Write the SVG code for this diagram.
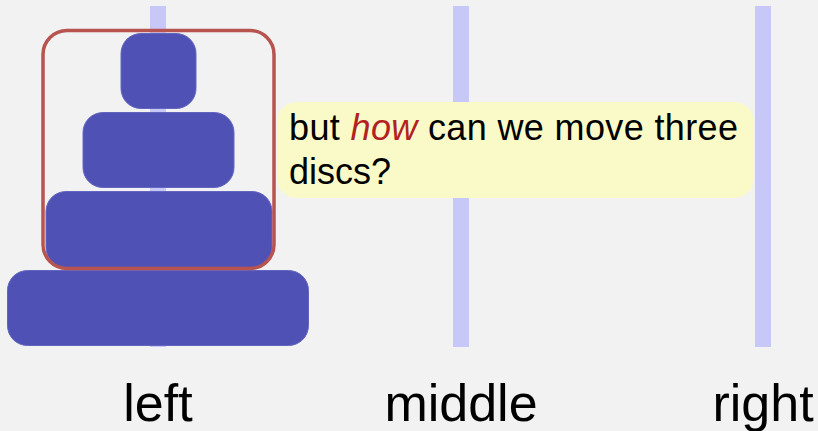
<svg xmlns="http://www.w3.org/2000/svg" width="818" height="431" viewBox="0 0 818 431">
  <style>
    .peg { fill: #c8c8f8; }
    .disc { fill: #4f52b4; stroke: #6366c0; stroke-width: 1; }
    .frame { fill: none; stroke: #b85450; stroke-width: 3.5; }
    .note { fill: #fafac8; }
    .txt { font-family: "Liberation Sans", Arial, sans-serif; fill: #000000; }
    .lbl { font-size: 52px; text-anchor: middle; }
    .em { fill: #b22222; font-style: italic; }
  </style>
  <rect x="0" y="0" width="818" height="431" fill="#f2f2f2"/>
  <g id="pegs">
    <rect id="peg-left" class="peg" x="150" y="6" width="16" height="341"/>
    <rect id="peg-middle" class="peg" x="453" y="6" width="16" height="341"/>
    <rect id="peg-right" class="peg" x="755" y="6" width="16" height="341"/>
  </g>
  <g id="disc1"><rect class="disc" x="121" y="33.5" width="75" height="75" rx="20"/></g>
  <g id="disc2"><rect class="disc" x="83" y="112.5" width="151" height="75" rx="20"/></g>
  <g id="disc3"><rect class="disc" x="46" y="191.5" width="226" height="76" rx="20"/></g>
  <g id="disc4"><rect class="disc" x="7.5" y="270.5" width="301" height="75" rx="20"/></g>
  <g id="selection"><rect class="frame" x="43" y="30.5" width="231" height="238" rx="24"/></g>
  <g id="note">
    <rect class="note" x="277" y="102" width="477" height="96" rx="20"/>
    <text class="txt" font-size="36" x="289" y="140" textLength="449" lengthAdjust="spacing">but <tspan class="em">how</tspan> can we move three</text>
    <text class="txt" font-size="36" x="289" y="184">discs?</text>
  </g>
  <g id="labels">
    <text id="label-left" class="txt lbl" x="158" y="421">left</text>
    <text id="label-middle" class="txt lbl" x="461" y="421">middle</text>
    <text id="label-right" class="txt lbl" x="763" y="421">right</text>
  </g>
  <g id="connectors"/>
</svg>
